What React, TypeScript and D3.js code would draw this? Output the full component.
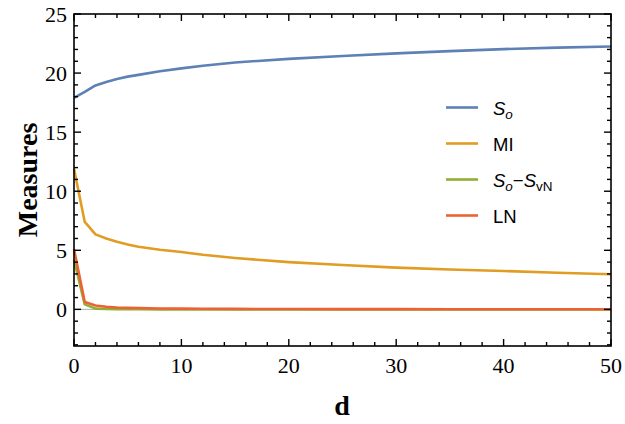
import React from 'react'
import * as d3 from 'd3'

// sampled distances
const dValues = [0, 1, 2, 3, 4, 5, 6, 8, 10, 12, 15, 20, 25, 30, 35, 40, 45, 50]

// measures
const soValues = [17.9, 18.4, 18.95, 19.25, 19.5, 19.7, 19.85, 20.15, 20.4, 20.62, 20.9, 21.2, 21.45, 21.67, 21.86, 22.03, 22.15, 22.25]
const miValues = [11.9, 7.4, 6.35, 6.0, 5.72, 5.5, 5.3, 5.05, 4.85, 4.62, 4.35, 4.0, 3.75, 3.53, 3.38, 3.25, 3.1, 2.97]
const diffValues = [4.2, 0.42, 0.06, 0.03, 0.02, 0.01, 0.01, 0, 0, 0, 0, 0, 0, 0, 0, 0, 0, 0]
const lnValues = [5.1, 0.62, 0.33, 0.22, 0.16, 0.13, 0.11, 0.08, 0.06, 0.05, 0.04, 0.03, 0.02, 0.02, 0.01, 0.01, 0.01, 0.01]

const xTicks = [0, 10, 20, 30, 40, 50]
const yTicks = [0, 5, 10, 15, 20, 25]

const colors = ['#5E81B5', '#E19C24', '#8FB032', '#EB6235']

const series = [
  { key: 'so', values: soValues, color: colors[0] },
  { key: 'mi', values: miValues, color: colors[1] },
  { key: 'diff', values: diffValues, color: colors[2] },
  { key: 'ln', values: lnValues, color: colors[3] },
]

export default function App() {
  const width = 625
  const height = 424
  const left = 74, right = 611, top = 14, bottom = 346

  const x = d3.scaleLinear().domain([0, 50]).range([left, right])
  const y = d3.scaleLinear().domain([-3.1, 25]).range([bottom, top])

  const line = d3.line<number>()
    .x((_, i) => x(dValues[i]))
    .y(d => y(d))

  const xMinor = d3.range(0, 50.01, 2)
  const yMinor = d3.range(-3, 25.01, 1)

  const serif = { fontFamily: "'Liberation Serif', 'Times New Roman', Times, serif" }
  const sans = { fontFamily: "'Liberation Sans', Arial, Helvetica, sans-serif" }

  // legend
  const legendRows = [107.5, 143.5, 179.5, 215.5]

  return (
    <svg width={width} height={height} style={{ position: 'absolute', left: 0, top: 0, background: '#fff' }}>
      {/* zero line */}
      <line x1={left} x2={right} y1={y(0)} y2={y(0)} stroke="#b0b0b0" strokeWidth={1} />

      {series.map(s => (
        <path key={s.key} d={line(s.values) || ''} fill="none" stroke={s.color}
          strokeWidth={2.6} strokeLinejoin="round" />
      ))}

      {/* frame */}
      <rect x={left} y={top} width={right - left} height={bottom - top} fill="none" stroke="#000" strokeWidth={1.6} />

      {/* ticks on all four sides */}
      {xMinor.map(v => {
        const len = v % 10 === 0 ? 7 : 4
        return (
          <g key={'xt' + v}>
            <line x1={x(v)} x2={x(v)} y1={bottom} y2={bottom - len} stroke="#000" strokeWidth={1.4} />
            <line x1={x(v)} x2={x(v)} y1={top} y2={top + len} stroke="#000" strokeWidth={1.4} />
          </g>
        )
      })}
      {yMinor.map(v => {
        const len = v % 5 === 0 ? 7 : 4
        return (
          <g key={'yt' + v}>
            <line x1={left} x2={left + len} y1={y(v)} y2={y(v)} stroke="#000" strokeWidth={1.4} />
            <line x1={right} x2={right - len} y1={y(v)} y2={y(v)} stroke="#000" strokeWidth={1.4} />
          </g>
        )
      })}

      {xTicks.map(v => (
        <text key={'xl' + v} x={x(v)} y={373} textAnchor="middle" style={serif} fontSize={22}>{v}</text>
      ))}
      {yTicks.map(v => (
        <text key={'yl' + v} x={67} y={y(v) + 7.5} textAnchor="end" style={serif} fontSize={22}>{v}</text>
      ))}

      <text x={342} y={415} textAnchor="middle" style={serif} fontSize={28} fontWeight="bold">d</text>
      <text transform={`translate(37,${(top + bottom) / 2}) rotate(-90)`} textAnchor="middle"
        style={serif} fontSize={28} fontWeight="bold">Measures</text>

      {/* legend */}
      {series.map((s, i) => (
        <line key={'lg' + s.key} x1={446} x2={478} y1={legendRows[i]} y2={legendRows[i]} stroke={s.color} strokeWidth={2.6} />
      ))}
      <text x={493} y={legendRows[0] + 7} style={sans} fontSize={18.5}>
        <tspan fontStyle="italic">S</tspan>
        <tspan fontStyle="italic" fontSize={13.5} dy={4}>o</tspan>
      </text>
      <text x={493} y={legendRows[1] + 7} style={sans} fontSize={18.5}>MI</text>
      <text x={493} y={legendRows[2] + 7} style={sans} fontSize={18.5}>
        <tspan fontStyle="italic">S</tspan>
        <tspan fontStyle="italic" fontSize={13.5} dy={4}>o</tspan>
        <tspan dy={-4}>−</tspan>
        <tspan fontStyle="italic">S</tspan>
        <tspan fontSize={13.5} dy={4}>vN</tspan>
      </text>
      <text x={493} y={legendRows[3] + 7} style={sans} fontSize={18.5}>LN</text>
    </svg>
  )
}
